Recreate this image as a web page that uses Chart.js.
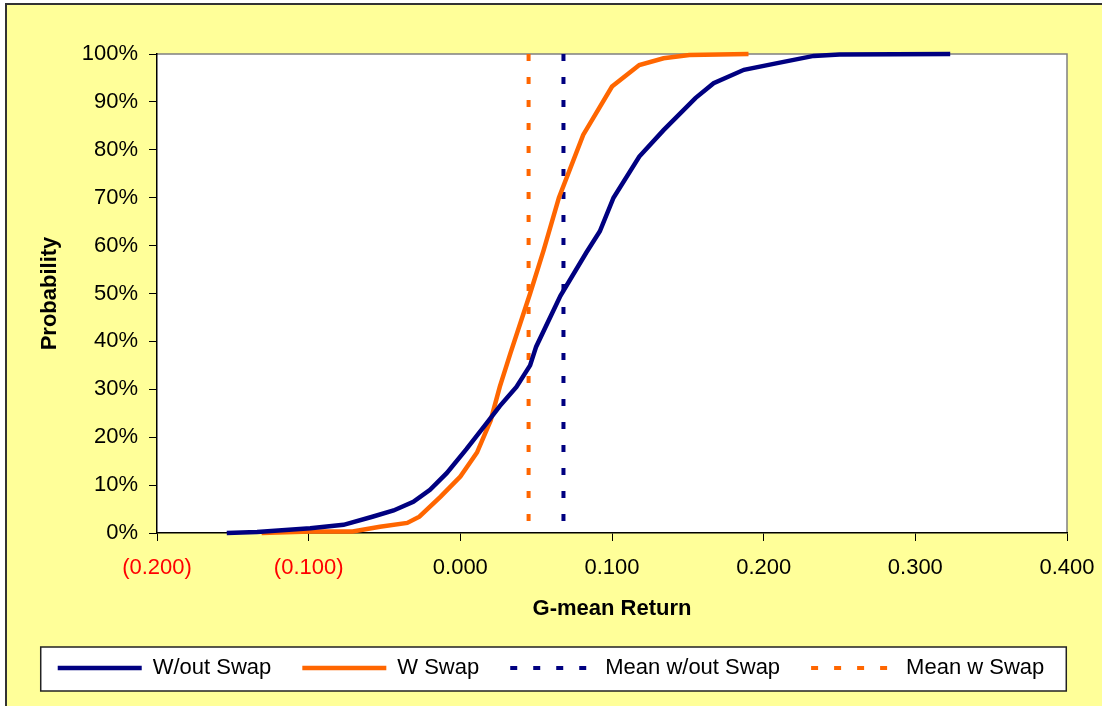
<!DOCTYPE html>
<html>
<head>
<meta charset="utf-8">
<script src="https://cdn.jsdelivr.net/npm/chart.js@4"></script>
<style>
  html, body { margin: 0; padding: 0; background: #fff; }
  #wrap { width: 1102px; height: 706px; }
</style>
</head>
<body>
<div id="wrap"><canvas id="cdfChart" width="1102" height="706"></canvas></div>
<script>
// cumulative probability, G-mean return
const woutX = [-0.154, -0.134, -0.099, -0.077, -0.058, -0.044, -0.031, -0.020, -0.009, 0.004, 0.017, 0.026, 0.037, 0.046, 0.050, 0.066, 0.083, 0.092, 0.101, 0.118, 0.134, 0.155, 0.167, 0.187, 0.209, 0.233, 0.250, 0.323];
const woutY = [0, 0.2, 1, 1.7, 3.4, 4.7, 6.5, 9, 12.5, 17.5, 22.8, 26.5, 30.5, 35, 38.9, 49.5, 58.5, 63, 70, 78.6, 84.1, 90.8, 93.9, 96.7, 98.1, 99.6, 99.9, 100];
const wX = [-0.131, -0.099, -0.071, -0.053, -0.035, -0.027, -0.013, 0.000, 0.011, 0.020, 0.026, 0.033, 0.046, 0.055, 0.065, 0.081, 0.100, 0.118, 0.134, 0.151, 0.190];
const wY = [0, 0.3, 0.3, 1.3, 2.1, 3.4, 7.6, 11.8, 16.8, 23.5, 30.5, 37.5, 50, 59.1, 70, 83.1, 93.2, 97.7, 99.1, 99.8, 100];
const meanWout = 0.068;
const meanW = 0.045;
const xTickLabels = ['(0.200)', '(0.100)', '0.000', '0.100', '0.200', '0.300', '0.400'];
const yTickLabels = ['0%', '10%', '20%', '30%', '40%', '50%', '60%', '70%', '80%', '90%', '100%'];

const FONT = "'Liberation Sans', Arial, sans-serif";

function toPoints(xs, ys) {
    return xs.map(function(x, i) { return {x: x, y: ys[i]}; });
}

// sfondo giallo, area bianca e riquadro legenda
const chartBackground = {
    id: 'chartBackground',
    beforeDraw: function(chart) {
        const ctx = chart.ctx;
        const a = chart.chartArea;
        ctx.save();
        ctx.fillStyle = '#FFFF99';
        ctx.fillRect(6, 4, chart.width - 6, chart.height - 4);
        ctx.strokeStyle = '#333';
        ctx.lineWidth = 2;
        ctx.beginPath();
        ctx.moveTo(6, chart.height);
        ctx.lineTo(6, 4);
        ctx.lineTo(chart.width, 4);
        ctx.stroke();

        ctx.fillStyle = '#fff';
        ctx.fillRect(a.left, a.top, a.right - a.left, a.bottom - a.top);
        ctx.strokeStyle = '#808080';
        ctx.lineWidth = 1.5;
        ctx.beginPath();
        ctx.moveTo(a.left, a.top);
        ctx.lineTo(a.right, a.top);
        ctx.lineTo(a.right, a.bottom);
        ctx.stroke();

        const hb = chart.legend.legendHitBoxes;
        if (hb && hb.length) {
            const last = hb[hb.length - 1];
            const x0 = hb[0].left - 17;
            const x1 = last.left + last.width + 22;
            const y0 = hb[0].top - 10;
            const y1 = hb[0].top + hb[0].height + 12;
            ctx.fillStyle = '#fff';
            ctx.fillRect(x0, y0, x1 - x0, y1 - y0);
            ctx.strokeStyle = '#222';
            ctx.lineWidth = 1.5;
            ctx.strokeRect(x0, y0, x1 - x0, y1 - y0);
        }
        ctx.restore();
    }
};

document.addEventListener("DOMContentLoaded", function() {
    const ctx = document.getElementById('cdfChart').getContext('2d');
    new Chart(ctx, {
        type: 'scatter',
        data: {
            datasets: [{
                label: 'W/out Swap',
                data: toPoints(woutX, woutY),
                showLine: true,
                borderColor: '#000080',
                backgroundColor: '#000080',
                borderWidth: 4.5,
                pointRadius: 0,
                tension: 0,
                clip: false
            }, {
                label: 'W Swap',
                data: toPoints(wX, wY),
                showLine: true,
                borderColor: '#FF6600',
                backgroundColor: '#FF6600',
                borderWidth: 4.5,
                pointRadius: 0,
                tension: 0,
                clip: false
            }, {
                label: 'Mean w/out Swap',
                data: [{x: meanWout, y: 100}, {x: meanWout, y: 0}],
                showLine: true,
                borderColor: '#000080',
                backgroundColor: '#000080',
                borderWidth: 4,
                borderDash: [7, 16],
                pointRadius: 0,
                clip: false
            }, {
                label: 'Mean w Swap',
                data: [{x: meanW, y: 100}, {x: meanW, y: 0}],
                showLine: true,
                borderColor: '#FF6600',
                backgroundColor: '#FF6600',
                borderWidth: 4,
                borderDash: [7, 16],
                pointRadius: 0,
                clip: false
            }]
        },
        options: {
            responsive: false,
            animation: false,
            layout: { padding: { left: 0, top: 54, right: 0, bottom: 17 } },
            plugins: {
                tooltip: { enabled: false },
                legend: {
                    position: 'bottom',
                    labels: {
                        boxWidth: 84,
                        boxHeight: 0,
                        padding: 31,
                        color: '#000',
                        font: { family: FONT, size: 22 }
                    }
                }
            },
            scales: {
                x: {
                    type: 'linear',
                    min: -0.2,
                    max: 0.4,
                    afterFit: function(s) {
                        s.height = 93;
                        s.paddingLeft = 0;
                        s.paddingRight = 35;
                    },
                    ticks: {
                        stepSize: 0.1,
                        padding: 14,
                        font: { family: FONT, size: 22 },
                        color: function(c) { return c.tick && c.tick.value < -1e-9 ? '#FF0000' : '#000'; },
                        callback: function(v, i) { return xTickLabels[i]; }
                    },
                    grid: { drawOnChartArea: false, drawTicks: true, tickLength: 8, color: '#000' },
                    border: { color: '#000', width: 1.5 },
                    title: {
                        display: true,
                        text: 'G-mean Return',
                        color: '#000',
                        font: { family: FONT, size: 22, weight: 'bold' },
                        padding: { top: 0, bottom: 4 }
                    }
                },
                y: {
                    min: 0,
                    max: 100,
                    afterFit: function(s) { s.width = 157; },
                    ticks: {
                        stepSize: 10,
                        padding: 11,
                        color: '#000',
                        font: { family: FONT, size: 22 },
                        callback: function(v, i) { return yTickLabels[i]; }
                    },
                    grid: { drawOnChartArea: false, drawTicks: true, tickLength: 8, color: '#000' },
                    border: { color: '#000', width: 1.5 },
                    title: {
                        display: true,
                        text: 'Probability',
                        color: '#000',
                        font: { family: FONT, size: 22, weight: 'bold' },
                        padding: { top: 37, bottom: 0 }
                    }
                }
            }
        },
        plugins: [chartBackground]
    });
});
</script>
</body>
</html>
